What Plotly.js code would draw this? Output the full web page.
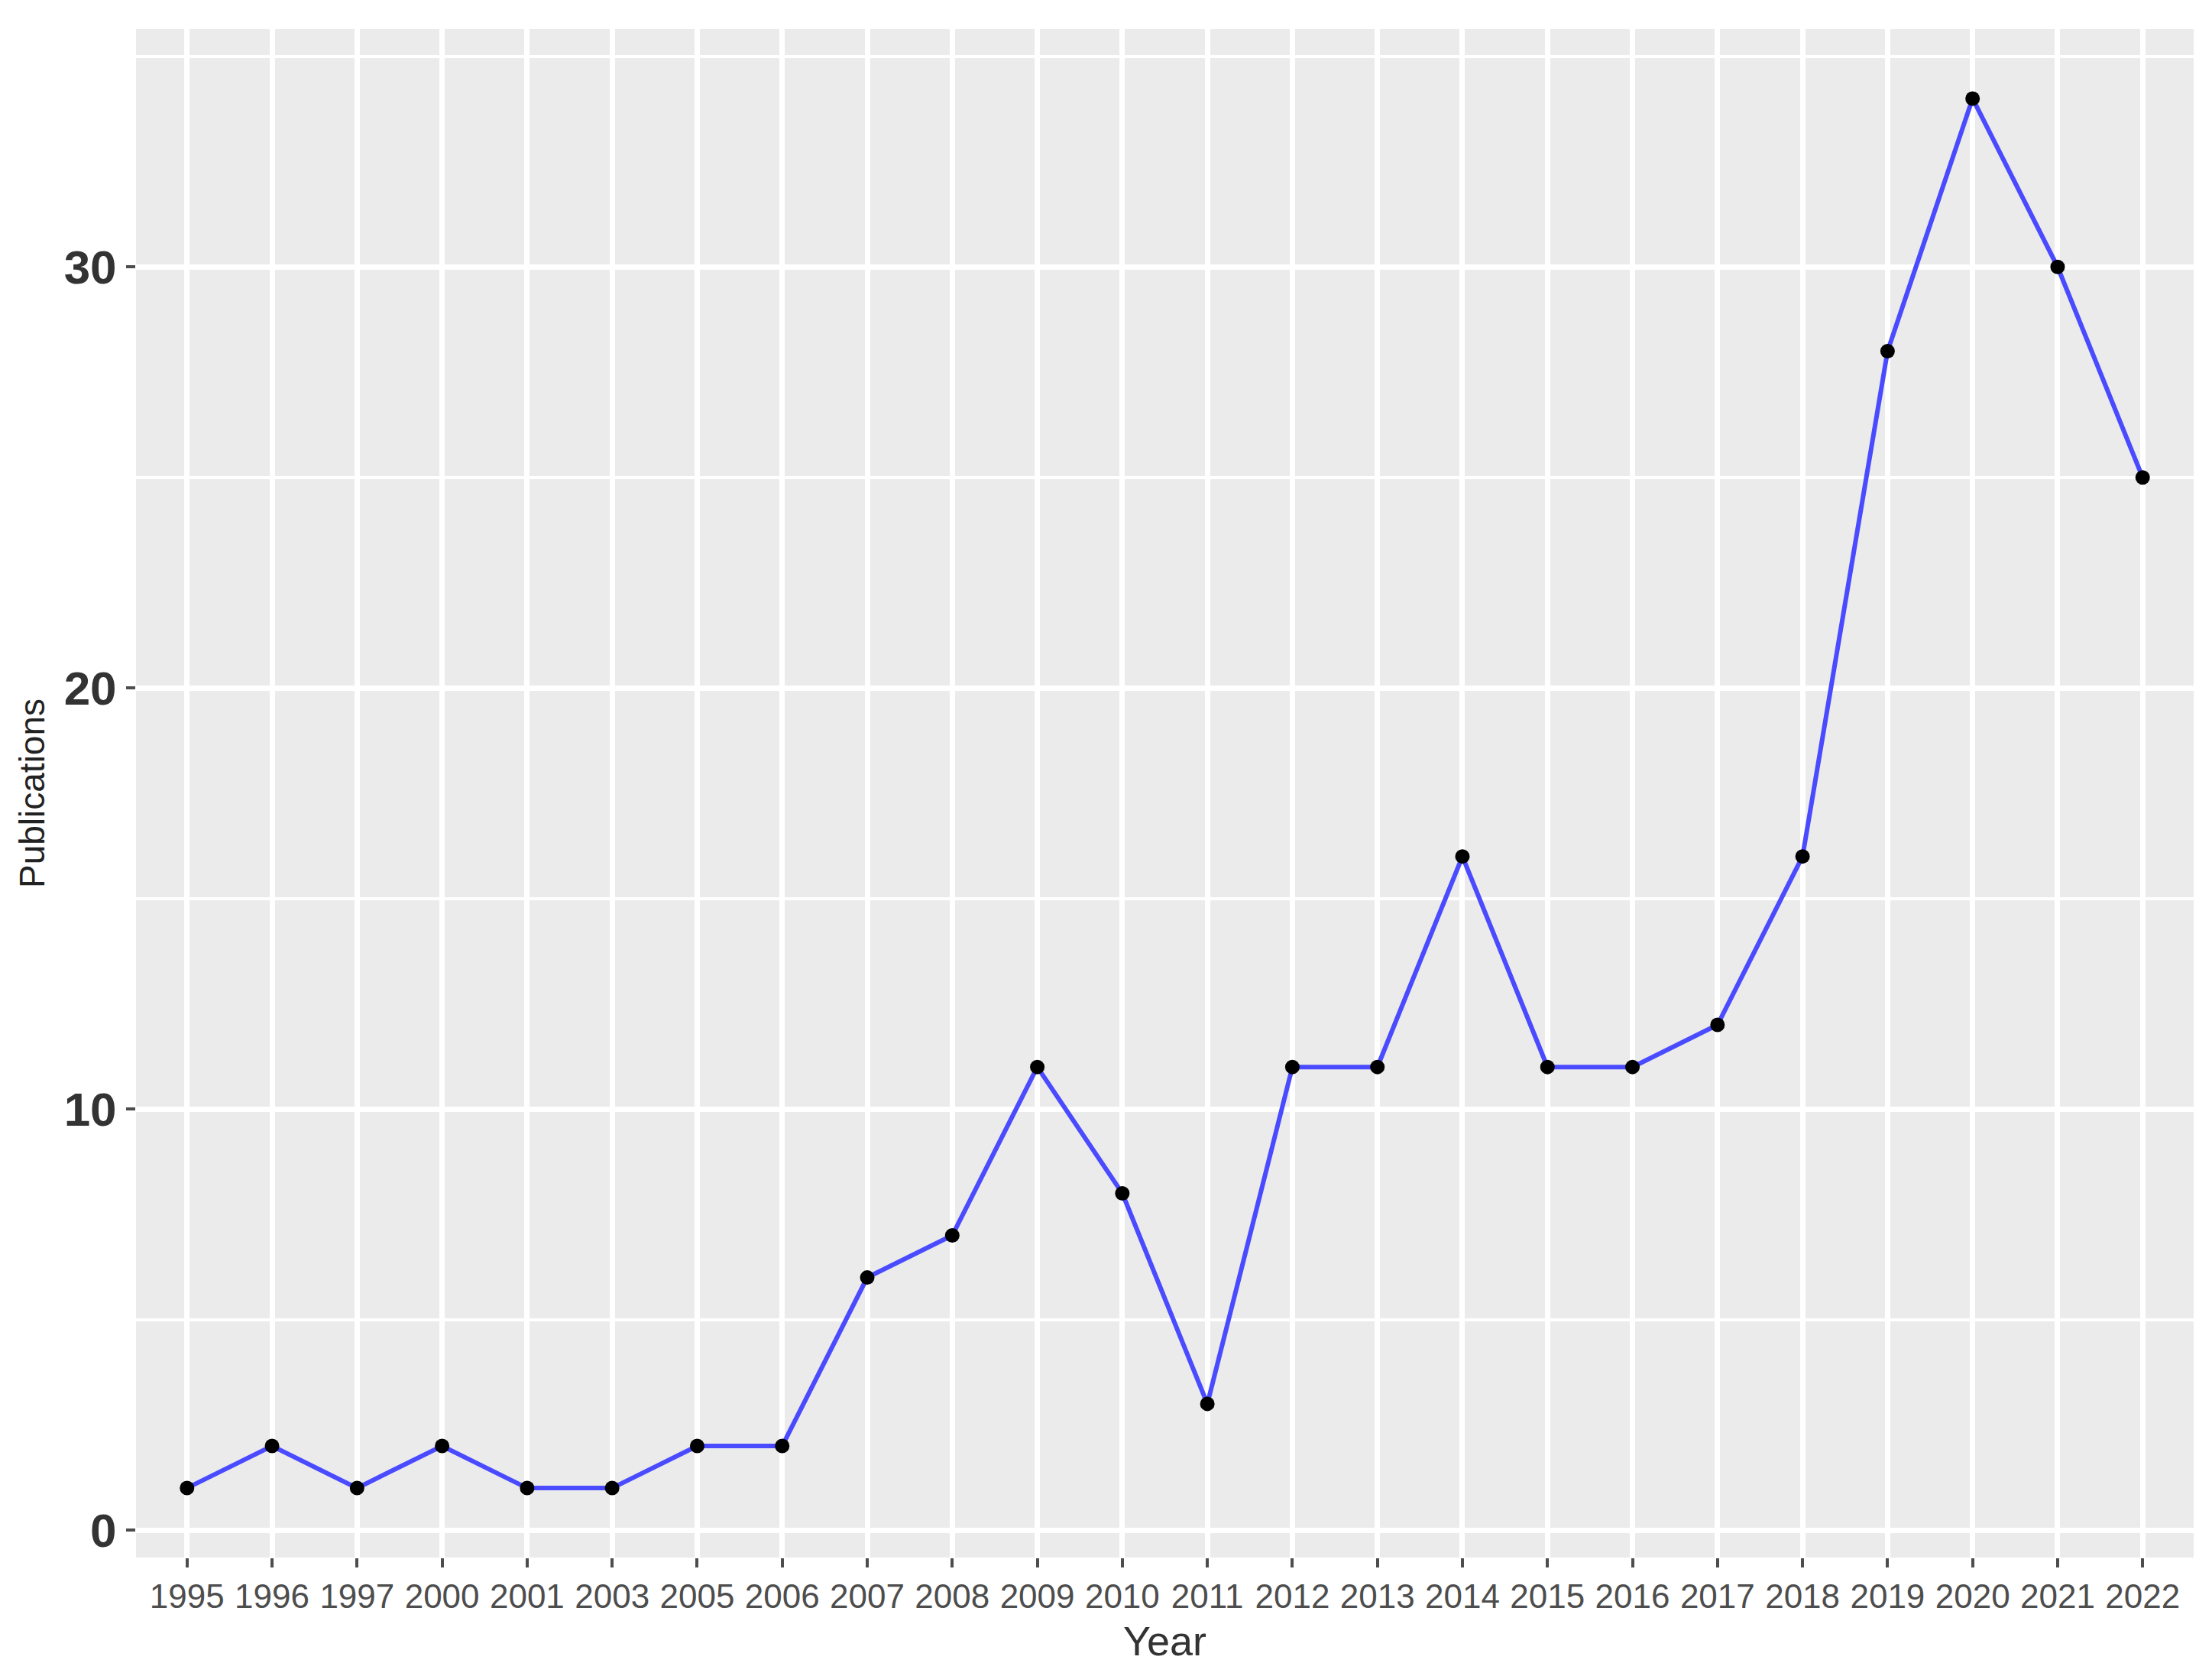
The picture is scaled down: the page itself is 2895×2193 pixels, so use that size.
<!DOCTYPE html>
<html>
<head>
<meta charset="utf-8">
<script src="https://cdn.plot.ly/plotly-3.0.1.min.js"></script>
<style>html,body{margin:0;padding:0;background:#fff;}#chart{width:2895px;height:2193px;}</style>
</head>
<body>
<div id="chart"></div>
<script>
var years = ["1995","1996","1997","2000","2001","2003","2005","2006","2007","2008","2009","2010","2011","2012","2013","2014","2015","2016","2017","2018","2019","2020","2021","2022"];
var publications = [1,2,1,2,1,1,2,2,6,7,11,8,3,11,11,16,11,11,12,16,28,34,30,25];
var yTicks = [0,10,20,30];

var trace = {
  x: years,
  y: publications,
  type: 'scatter',
  mode: 'lines+markers',
  line: {color: '#4a4aff', width: 6},
  marker: {color: '#000000', size: 19},
  hoverinfo: 'x+y'
};

var layout = {
  width: 2895,
  height: 2193,
  paper_bgcolor: '#ffffff',
  plot_bgcolor: '#ebebeb',
  margin: {l: 178, r: 24, t: 38, b: 155},
  showlegend: false,
  font: {family: 'Liberation Sans, Arial, sans-serif', color: '#333333'},
  xaxis: {
    type: 'category',
    range: [-0.6, 23.6],
    showgrid: true,
    gridcolor: '#ffffff',
    gridwidth: 7,
    zeroline: false,
    showline: false,
    ticks: 'outside',
    ticklen: 12,
    tickwidth: 4,
    tickcolor: '#4d4d4d',
    tickfont: {size: 44, color: '#4d4d4d', family: 'Liberation Sans, Arial, sans-serif'},
    tickangle: 0,
    title: {text: 'Year', font: {size: 54, color: '#333333'}, standoff: 16},
    automargin: false
  },
  yaxis: {
    range: [-0.65, 35.65],
    tickvals: yTicks,
    ticktext: yTicks.map(String),
    showgrid: true,
    gridcolor: '#ffffff',
    gridwidth: 7,
    zeroline: false,
    showline: false,
    ticks: 'outside',
    ticklen: 12,
    tickwidth: 4,
    tickcolor: '#4d4d4d',
    tickfont: {size: 62, color: '#333333', family: 'Liberation Sans, Arial, sans-serif', weight: 'bold'},
    minor: {dtick: 5, tick0: 5, showgrid: true, gridcolor: '#ffffff', gridwidth: 4, ticks: ''},
    title: {text: 'Publications', font: {size: 46, color: '#222222'}, standoff: 10},
    automargin: false
  }
};

Plotly.newPlot('chart', [trace], layout, {displayModeBar: false, staticPlot: true});
</script>
</body>
</html>
